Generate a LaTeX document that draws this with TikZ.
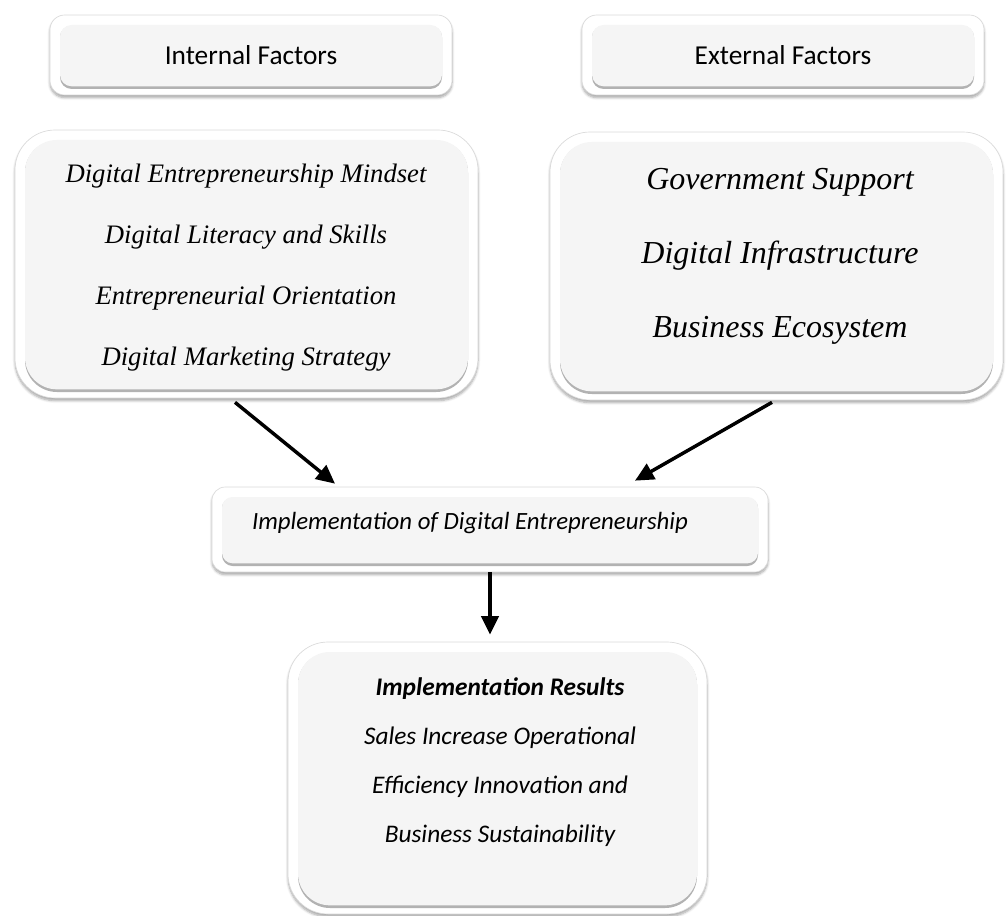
\documentclass[tikz,border=0pt]{standalone}
\usepackage{fontspec}
\setmainfont{Liberation Serif}
\newfontfamily\carlito{Carlito}
\usetikzlibrary{arrows.meta,calc,shadows.blur}

\definecolor{panelfill}{HTML}{F5F5F5}
\definecolor{panelrim}{HTML}{DADADA}

\tikzset{
  panel/.style={rectangle, inner sep=0pt, rounded corners=#1, fill=white, draw=panelrim, line width=0.5pt,
    blur shadow={shadow xshift=0pt, shadow yshift=-2pt, shadow blur steps=6, shadow opacity=35},
    path picture={
      \fill[black!30, rounded corners=0.8*#1] ([shift={(7.5pt,4.5pt)}]path picture bounding box.south west) rectangle ([shift={(-7.5pt,-8pt)}]path picture bounding box.north east);
      \fill[panelfill, rounded corners=0.8*#1] ([shift={(7.5pt,6.5pt)}]path picture bounding box.south west) rectangle ([shift={(-7.5pt,-7.5pt)}]path picture bounding box.north east);
    }},
  head/.style={font=\carlito\fontsize{20.5}{24}\selectfont},
  intlist/.style={align=center, font=\itshape\fontsize{20}{45.75}\selectfont},
  extlist/.style={align=center, font=\itshape\fontsize{24}{55.5}\selectfont},
  midtxt/.style={font=\carlito\itshape\fontsize{18.6}{23}\selectfont},
  restxt/.style={align=center, font=\carlito\itshape\fontsize{19}{36.75}\selectfont},
  arr/.style={line width=2.6pt, -{Triangle[length=14pt,width=13pt]}}
}

\begin{document}
\begin{tikzpicture}[x=0.75pt,y=-0.75pt]
\useasboundingbox (0,0) rectangle (1006,916);

% factor headings
\node[panel=11pt, minimum width=301.5pt, minimum height=60pt] (inthead) at (251,55) {};
\node[panel=11pt, minimum width=301.5pt, minimum height=60pt] (exthead) at (783,55) {};
\node[head] (inttxt) at (inthead.center) {Internal Factors};
\node[head] (exttxt) at (exthead.center) {External Factors};

% factor lists
\node[panel=30pt, minimum width=347.25pt, minimum height=201pt] (intbox) at (246.5,264) {};
\node[panel=30pt, minimum width=339.75pt, minimum height=201pt] (extbox) at (776.5,266) {};
\node[intlist] (intlst) at (246,268) {Digital Entrepreneurship Mindset\\Digital Literacy and Skills\\Entrepreneurial Orientation\\Digital Marketing Strategy};
\node[extlist] (extlst) at (780,256) {Government Support\\Digital Infrastructure\\Business Ecosystem};

% implementation
\node[panel=10pt, minimum width=417pt, minimum height=63.75pt] (implbox) at (490,529.5) {};
\node[midtxt] (impltxt) at (470,523) {Implementation of Digital Entrepreneurship};

% results
\node[panel=30pt, minimum width=314.25pt, minimum height=204pt] (resbox) at (497.5,778) {};
\node[restxt] (restx) at (500,762) {\textbf{Implementation Results}\\Sales Increase Operational\\Efficiency Innovation and\\Business Sustainability};

\draw[arr] ($(intbox.south)+(-11.5,4)$) -- ($(implbox.north)+(-155,-3)$);
\draw[arr] ($(extbox.south)+(-4.5,2)$) -- ($(implbox.north)+(145,-6)$);
\draw[arr] (implbox.south) -- ($(implbox.south |- resbox.north)+(0,-7)$);
\end{tikzpicture}
\end{document}
